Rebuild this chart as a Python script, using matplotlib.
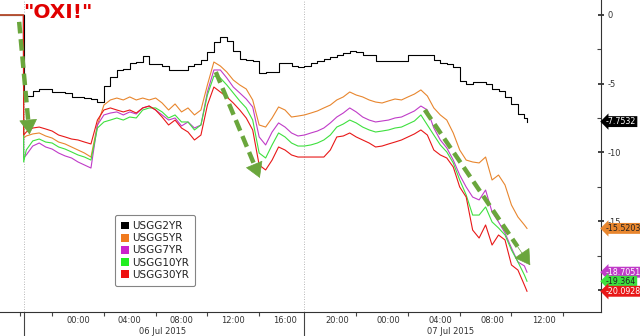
import matplotlib
matplotlib.use("Agg")
import matplotlib.pyplot as plt
from matplotlib import font_manager
from matplotlib.patches import Patch

# ---------------- data (hours since 06 Jul 2015 00:00, change in bp) ----------------
times = [-6.0, -4.22, -4.2,
         -4.0, -3.5, -3.0, -2.5, -2.0, -1.5, -1.0, -0.5,
         0.0, 0.5, 1.0, 1.5, 2.0, 2.5, 3.0, 3.5,
         4.0, 4.5, 5.0, 5.5, 6.0, 6.5, 7.0, 7.5,
         8.0, 8.5, 9.0, 9.5, 10.0, 10.5, 11.0, 11.5,
         12.0, 12.5, 13.0, 13.5, 14.0, 14.5, 15.0, 15.5,
         16.0, 16.5, 17.0, 17.5, 18.0, 18.5, 19.0, 19.5,
         20.0, 20.5, 21.0, 21.5, 22.0, 22.5, 23.0, 23.5,
         24.0, 24.5, 25.0, 25.5, 26.0, 26.5, 27.0, 27.5,
         28.0, 28.5, 29.0, 29.5, 30.0, 30.5, 31.0, 31.5,
         32.0, 32.5, 33.0, 33.5, 34.0, 34.5, 34.7]

usgg2yr = [0, 0, -5.9,
           -5.9, -5.5, -5.4, -5.4, -5.6, -5.6, -5.65, -5.95,
           -6.0, -6.05, -6.1, -6.35, -5.2, -4.5, -4.0, -3.9,
           -3.5, -3.4, -3.0, -3.55, -3.55, -3.7, -4.0, -4.0,
           -4.0, -3.7, -3.6, -3.3, -2.7, -2.0, -1.6, -1.9,
           -2.6, -3.2, -3.3, -3.35, -4.2, -4.15, -4.15, -3.5,
           -3.5, -3.7, -3.8, -3.7, -3.5, -3.35, -3.2, -3.05,
           -2.9, -2.75, -2.65, -2.7, -2.9, -2.9, -3.35, -3.35,
           -3.35, -3.35, -3.35, -2.9, -2.9, -2.9, -2.9, -3.3,
           -3.5, -3.6, -3.8, -4.8, -5.0, -4.9, -4.85, -5.0,
           -5.4, -5.5, -6.0, -6.5, -7.2, -7.5, -7.7532]

usgg5yr = [0, 0, -8.95,
           -8.80, -8.65, -8.58, -8.80, -8.95, -9.24, -9.38, -9.60,
           -9.82, -10.04, -10.33, -8.00, -6.55, -6.18, -6.04, -6.18,
           -5.96, -6.18, -6.04, -6.18, -6.04, -6.40, -6.91, -6.47,
           -7.05, -6.76, -7.27, -6.91, -5.09, -3.42, -3.71, -4.15,
           -4.73, -5.09, -5.38, -6.18, -8.00, -8.15, -7.49, -6.69,
           -6.91, -7.42, -7.35, -7.27, -7.13, -6.98, -6.76, -6.55,
           -6.18, -5.96, -5.60, -5.82, -5.96, -6.18, -6.33, -6.40,
           -6.25, -6.11, -6.18, -5.96, -5.75, -5.45, -5.89, -6.76,
           -7.27, -7.64, -8.58, -9.82, -10.55, -10.69, -10.76, -10.33,
           -12.0, -11.64, -12.36, -13.82, -14.69, -15.27, -15.5203]

usgg7yr = [0, 0, -10.40,
           -10.18, -9.53, -9.31, -9.60, -9.75, -10.04, -10.25, -10.40,
           -10.69, -10.91, -11.13, -8.00, -7.27, -7.13, -7.05, -7.27,
           -7.05, -7.20, -6.76, -6.62, -6.91, -7.27, -7.64, -7.49,
           -8.07, -7.78, -8.22, -8.00, -5.60, -4.00, -4.00, -4.58,
           -5.24, -5.67, -6.11, -6.69, -8.87, -9.45, -8.51, -7.85,
           -8.15, -8.58, -8.80, -8.73, -8.58, -8.44, -8.22, -7.85,
           -7.42, -7.13, -6.76, -7.05, -7.42, -7.64, -7.78, -7.71,
           -7.64, -7.49, -7.42, -7.20, -6.98, -6.62, -6.91, -8.22,
           -9.09, -9.67, -10.55, -11.64, -12.51, -13.24, -13.45, -12.73,
           -14.33, -15.05, -15.85, -16.95, -17.96, -18.25, -18.7051]

usgg10yr = [0, 0, -10.69,
            -9.82, -9.16, -9.02, -9.24, -9.31, -9.60, -9.75, -9.96,
            -10.18, -10.33, -10.55, -8.22, -7.78, -7.64, -7.49, -7.64,
            -7.42, -7.49, -6.91, -6.76, -6.76, -7.05, -7.49, -7.27,
            -7.78, -7.78, -8.36, -8.00, -5.82, -4.44, -4.58, -5.09,
            -5.67, -6.25, -6.76, -7.64, -10.04, -10.40, -9.45, -8.58,
            -8.87, -9.31, -9.53, -9.53, -9.45, -9.31, -9.09, -8.73,
            -8.15, -7.93, -7.64, -7.85, -8.15, -8.36, -8.51, -8.44,
            -8.36, -8.22, -8.15, -7.93, -7.71, -7.27, -8.00, -8.73,
            -9.45, -9.96, -10.76, -12.00, -13.09, -14.55, -14.55, -13.96,
            -15.05, -15.49, -16.00, -17.09, -17.96, -18.91, -19.364]

usgg30yr = [0, 0, -8.73,
            -8.51, -8.22, -8.15, -8.29, -8.44, -8.73, -8.87, -9.02,
            -9.09, -9.24, -9.38, -7.64, -6.91, -6.76, -6.91, -7.05,
            -6.91, -7.13, -6.76, -6.62, -6.91, -7.42, -8.00, -7.64,
            -8.22, -8.51, -9.09, -8.73, -6.55, -5.24, -5.60, -5.96,
            -6.40, -6.91, -7.49, -8.36, -10.91, -11.27, -10.55, -9.60,
            -9.82, -10.18, -10.33, -10.33, -10.33, -10.33, -10.33, -9.82,
            -8.87, -8.80, -8.58, -8.87, -9.09, -9.31, -9.60, -9.53,
            -9.38, -9.24, -9.09, -8.87, -8.65, -8.36, -8.73, -9.82,
            -10.18, -10.40, -11.05, -12.51, -13.24, -15.64, -16.22, -15.27,
            -16.73, -16.00, -16.36, -18.18, -18.55, -19.64, -20.0928]

series_names = ["USGG2YR", "USGG5YR", "USGG7YR", "USGG10YR", "USGG30YR"]
series_values = [usgg2yr, usgg5yr, usgg7yr, usgg10yr, usgg30yr]
series_colors = ["#000000", "#e8862e", "#c03bc8", "#3ee03e", "#e81818"]
series_steps = ["steps-post", "default", "default", "default", "default"]
legend_colors = ["#000000", "#f07a1e", "#cc22cc", "#22ee22", "#ee1111"]
label_text_colors = ["white", "#222222", "white", "#222222", "white"]

xtick_pos = [0, 4, 8, 12, 16, 20, 24, 28, 32, 36]
xtick_labels = ["00:00", "04:00", "08:00", "12:00", "16:00",
                "20:00", "00:00", "04:00", "08:00", "12:00"]
date_labels = ["06 Jul 2015", "07 Jul 2015"]
date_pos = [6.5, 28.8]
session_starts = [-4.2, 17.45]
ytick_pos = [0, -5, -10, -15, -20]
ytick_labels = ["0", "-5", "-10", "-15", ""]   # -20 is hidden behind the last-value tag

# green trend arrows (start, end) in data coords
arrows = [((-4.55, -0.5), (-3.75, -8.7)),
          ((10.65, -4.15), (14.05, -11.85)),
          ((26.8, -6.9), (34.95, -18.2))]

# ---------------- fonts ----------------
avail = {f.name for f in font_manager.fontManager.ttflist}
if "Liberation Sans Narrow" in avail:
    NARROW, TICK_FS, VAL_FS = "Liberation Sans Narrow", 7.5, 7.0
else:
    NARROW, TICK_FS, VAL_FS = "DejaVu Sans", 6.0, 5.7

# ---------------- figure ----------------
fig = plt.figure(figsize=(6.4, 3.36), dpi=100)
fig.patch.set_facecolor("white")
ax = fig.add_axes([0.0, 24 / 336, 601 / 640, 312 / 336])
ax.set_facecolor("white")
ax.set_xlim(-6.03, 40.42)
ax.set_ylim(-21.6, 1.09)

for vals, col, ds in zip(series_values, series_colors, series_steps):
    ax.plot(times, vals, color=col, lw=0.8, drawstyle=ds, zorder=3)

# session separators
for s in session_starts:
    ax.axvline(s, color="#a0a0a0", lw=0.6, ls=(0, (1, 2)), zorder=1)
    ax.plot([s, s], [0, -0.08], transform=ax.get_xaxis_transform(),
            color="#444444", lw=0.8, clip_on=False)

# spines
for sp in ["top", "left"]:
    ax.spines[sp].set_visible(False)
for sp in ["right", "bottom"]:
    ax.spines[sp].set_color("#333333")
    ax.spines[sp].set_linewidth(0.8)

# x ticks
ax.set_xticks(xtick_pos)
ax.set_xticklabels(xtick_labels, fontsize=TICK_FS, color="#333333", family=NARROW)
ax.tick_params(axis="x", which="major", length=0, pad=3)
ax.set_xticks([-4.5, -2, 2, 6, 10, 14, 21.5, 25.5, 29.5, 33.5, 37.5], minor=True)
ax.tick_params(axis="x", which="minor", length=3, direction="out", color="#444444", width=0.8)
for lab, pos in zip(date_labels, date_pos):
    ax.annotate(lab, xy=(pos, 0), xycoords=("data", "axes fraction"),
                xytext=(0, -13.8), textcoords="offset points",
                ha="center", va="center", fontsize=TICK_FS, color="#333333", family=NARROW)

# y ticks (right)
ax.yaxis.tick_right()
ax.set_yticks(ytick_pos)
ax.set_yticklabels(ytick_labels, fontsize=TICK_FS, color="#333333", family=NARROW)
ax.tick_params(axis="y", which="major", length=4, direction="inout", width=1.2, color="#222222", pad=3)
ax.set_yticks([-2.5, -7.5, -12.5, -17.5], minor=True)
ax.tick_params(axis="y", which="minor", length=3, direction="in", width=0.8, color="#444444")

# last-value labels
for vals, col, tcol in zip(series_values, series_colors, label_text_colors):
    last = vals[-1]
    ax.annotate(f"{last:g}", xy=(1.0, last), xycoords=("axes fraction", "data"),
                xytext=(3.6, 0), textcoords="offset points", ha="left", va="center",
                fontsize=VAL_FS, color=tcol, family=NARROW, zorder=10,
                bbox=dict(boxstyle="larrow,pad=0.12", fc=col, ec="none"),
                annotation_clip=False)

# green dashed arrows
green = "#6aa63c"
for (x0, y0), (x1, y1) in arrows:
    f = 0.88
    xm, ym = x0 + (x1 - x0) * f, y0 + (y1 - y0) * f
    ax.plot([x0, xm], [y0, ym], color=green, lw=3.2, ls=(0, (2.6, 1.3)),
            dash_capstyle="butt", zorder=5)
    ax.annotate("", xy=(x1, y1), xytext=(xm, ym),
                arrowprops=dict(arrowstyle="-|>,head_length=1.0,head_width=0.6",
                                fc=green, ec=green, lw=0.5, mutation_scale=10,
                                shrinkA=0, shrinkB=0), zorder=6)

# legend
handles = [Patch(facecolor=c, edgecolor="none") for c in legend_colors]
leg = fig.legend(handles, series_names, loc="upper left",
                 bbox_to_anchor=(115 / 640, 1 - 215 / 336),
                 fontsize=7.5, frameon=True, fancybox=True,
                 handlelength=0.75, handleheight=0.75, handletextpad=0.3,
                 labelspacing=0.2, borderpad=0.6, borderaxespad=0)
leg.get_frame().set_edgecolor("#666666")
leg.get_frame().set_linewidth(0.8)
for t in leg.get_texts():
    t.set_color("#222222")

# title text
fig.text(23 / 640, 1 - 12.5 / 336, '"OXI!"', ha="left", va="center",
         fontsize=14.5, fontweight="bold", color="#e00000")

fig.savefig("out.png", dpi=100, facecolor="white")
